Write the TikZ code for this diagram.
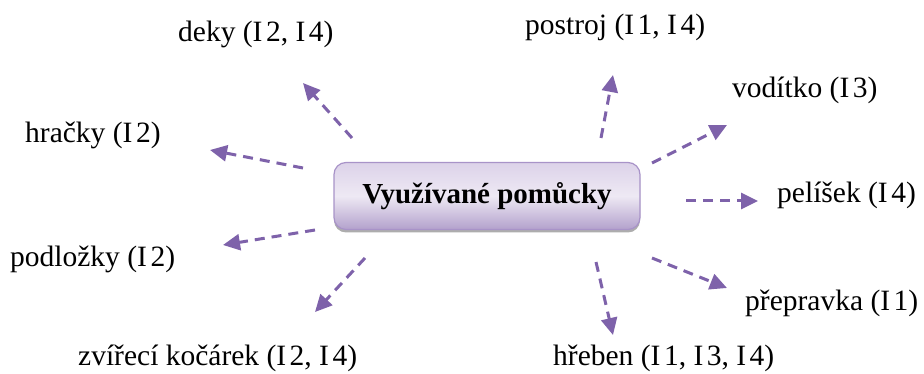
\documentclass[tikz,border=0pt]{standalone}
\usepackage{fontspec}
\setmainfont{Liberation Serif}
\usetikzlibrary{arrows.meta,shadows}
\definecolor{arrcol}{HTML}{7E62AA}
\definecolor{boxedge}{HTML}{A893C8}
\definecolor{boxtop}{HTML}{DCD2E9}
\definecolor{boxmid}{HTML}{EEE9F4}
\definecolor{boxbot}{HTML}{B3A1CC}
\newcommand\iref[1]{I\kern.12em#1}
\tikzset{
  lbl/.style={anchor=base west, inner sep=0pt, font=\fontsize{29.5}{36}\selectfont},
  conn/.style={draw=arrcol, line width=3pt, dash pattern=on 10pt off 7pt,
    -{Triangle[length=17pt,width=16pt,fill=arrcol]}},
  centerbox/.style={rounded corners=12pt, draw=boxedge, line width=1.2pt,
    top color=boxtop, bottom color=boxbot, middle color=boxmid,
    minimum width=306pt, minimum height=67pt, inner sep=0pt,
    font=\fontsize{29}{34}\selectfont\bfseries,
    drop shadow={shadow xshift=0pt, shadow yshift=-3pt, fill=black!40, opacity=0.8}}
}
\begin{document}
\begin{tikzpicture}[x=1pt,y=-1pt]
\useasboundingbox (0,0) rectangle (924,374);
\node[centerbox] (c) at (487,196) {Využívané pomůcky};
\node[lbl] (deky) at (178,42) {deky (\iref{2}, \iref{4})};
\node[lbl] (postroj) at (525,35) {postroj (\iref{1}, \iref{4})};
\node[lbl] (voditko) at (732,98) {vodítko (\iref{3})};
\node[lbl] (hracky) at (25,143) {hračky (\iref{2})};
\node[lbl] (pelisek) at (777,203) {pelíšek (\iref{4})};
\node[lbl] (podlozky) at (10,267) {podložky (\iref{2})};
\node[lbl] (prepravka) at (745,310) {přepravka (\iref{1})};
\node[lbl] (kocarek) at (78,365) {zvířecí kočárek (\iref{2}, \iref{4})};
\node[lbl] (hreben) at (553,365) {hřeben (\iref{1}, \iref{3}, \iref{4})};
\coordinate (s1) at (352,138); \coordinate (t1) at (303,83);
\coordinate (s2) at (303,168); \coordinate (t2) at (210,150);
\coordinate (s3) at (601,138); \coordinate (t3) at (613,75);
\coordinate (s4) at (652,163); \coordinate (t4) at (727,125);
\coordinate (s5) at (686,201); \coordinate (t5) at (758,201);
\coordinate (s6) at (315,230); \coordinate (t6) at (223,245);
\coordinate (s7) at (365,258); \coordinate (t7) at (315,312);
\coordinate (s8) at (596,262); \coordinate (t8) at (613,335);
\coordinate (s9) at (652,258); \coordinate (t9) at (727,288);
\foreach \i in {1,...,9} \draw[conn] (s\i) -- (t\i);
\end{tikzpicture}
\end{document}
